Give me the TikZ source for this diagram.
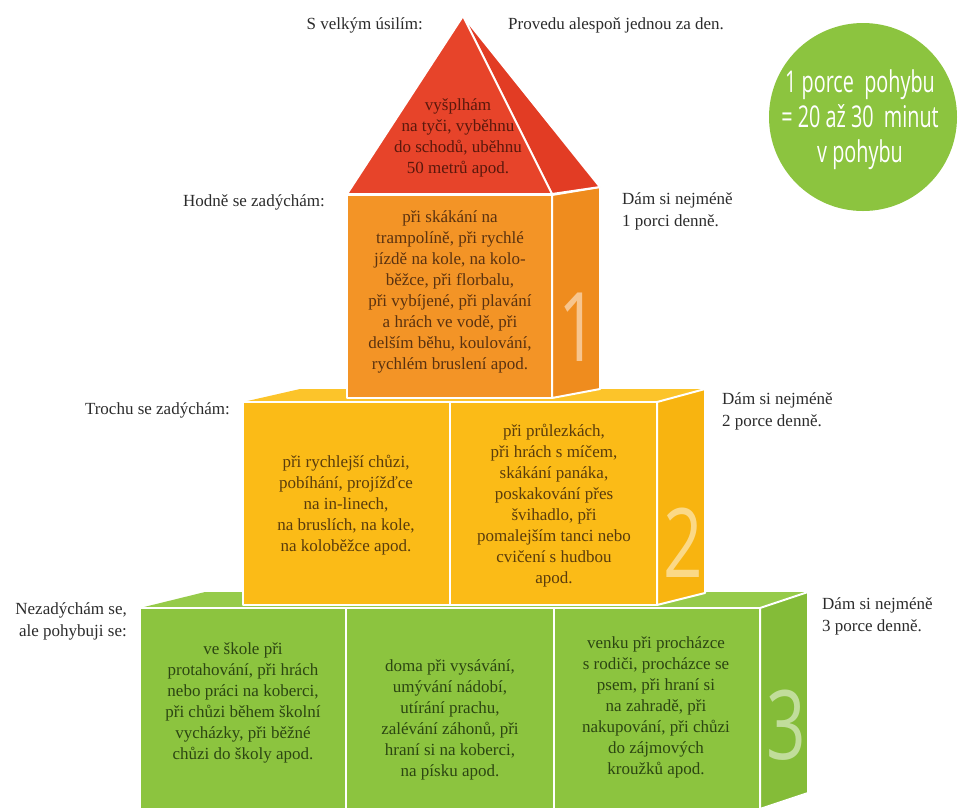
\documentclass[tikz,border=0pt]{standalone}
\usepackage{fontspec}
\setmainfont{Liberation Serif}
\newfontfamily\circfont{Open Sans}[FakeStretch=0.66]
\newfontfamily\digfont{Open Sans}[FakeStretch=0.72]
\definecolor{redF}{HTML}{E7442A}
\definecolor{redS}{HTML}{E23C24}
\definecolor{orF}{HTML}{F39426}
\definecolor{orS}{HTML}{EF8C1E}
\definecolor{yeF}{HTML}{FBBB17}
\definecolor{yeS}{HTML}{F8B410}
\definecolor{yeT}{HTML}{FCC42A}
\definecolor{grF}{HTML}{8CC43F}
\definecolor{grS}{HTML}{84BC38}
\definecolor{grT}{HTML}{96CB4A}
\definecolor{txRed}{HTML}{5A180C}
\definecolor{txOr}{HTML}{5A3210}
\definecolor{txYe}{HTML}{5A3C0C}
\definecolor{txGr}{HTML}{2C4612}
\definecolor{txLab}{HTML}{2B2B2B}
\tikzset{
  face/.style={draw=white, line width=2pt, line join=round},
  boxtext/.style={align=center, inner sep=0pt, font=\fontsize{17}{21}\selectfont},
  sidelab/.style={inner sep=0pt, text=txLab, font=\fontsize{17}{22}\selectfont},
  bigdigit/.style={inner sep=0pt, text=white, text opacity=0.5, font=\digfont\fontsize{96}{96}\selectfont},
}
\begin{document}
\begin{tikzpicture}[x=1pt,y=-1pt]
\useasboundingbox (0,0) rectangle (959,807);
% ---------- green level ----------
\fill[grT] (140,608) -- (205,592) -- (808,592) -- (760,608) -- cycle;
\filldraw[face, fill=grS] (760,608) -- (808,592) -- (808,793) -- (760,809) -- cycle;
\filldraw[face, fill=grF] (140,608) rectangle (346,812);
\filldraw[face, fill=grF] (346,608) rectangle (554,812);
\filldraw[face, fill=grF] (554,608) rectangle (760,812);
% ---------- yellow level ----------
\fill[yeT] (243,402) -- (300,389) -- (705,389) -- (657,402) -- cycle;
\filldraw[face, fill=yeS] (657,402) -- (705,389) -- (705,593) -- (657,605) -- cycle;
\filldraw[face, fill=yeF] (243,402) rectangle (450,605);
\filldraw[face, fill=yeF] (450,402) rectangle (657,605);
% ---------- orange level ----------
\filldraw[face, fill=orS] (552,195) -- (600,187) -- (600,389) -- (552,398) -- cycle;
\filldraw[face, fill=orF] (347,195) rectangle (552,398);
% ---------- roof ----------
\filldraw[face, fill=redS] (463,16) -- (600,187) -- (552,194) -- cycle;
\filldraw[face, fill=redF] (463,16) -- (552,194) -- (347,194) -- cycle;
% ---------- big digits ----------
\node[bigdigit] (d1) at (578,327) {1};
\node[bigdigit] (d2) at (683,543) {2};
\node[bigdigit] (d3) at (786,725) {3};
% ---------- box texts ----------
\node[boxtext, text=txRed] (troof) at (458,138) {vyšplhám\\na tyči, vyběhnu\\do schodů, uběhnu\\50 metrů apod.};
\node[boxtext, text=txOr] (tor) at (450,292) {při skákání na\\trampolíně, při rychlé\\jízdě na kole, na kolo-\\běžce, při florbalu,\\při vybíjené, při plavání\\a hrách ve vodě, při\\delším běhu, koulování,\\rychlém bruslení apod.};
\node[boxtext, text=txYe] (tyl) at (346,505) {při rychlejší chůzi,\\pobíhání, projížďce\\na in-linech,\\na bruslích, na kole,\\na koloběžce apod.};
\node[boxtext, text=txYe] (tyr) at (554,506) {při průlezkách,\\při hrách s míčem,\\skákání panáka,\\poskakování přes\\švihadlo, při\\pomalejším tanci nebo\\cvičení s hudbou\\apod.};
\node[boxtext, text=txGr] (tgl) at (243,703) {ve škole při\\protahování, při hrách\\nebo práci na koberci,\\při chůzi během školní\\vycházky, při běžné\\chůzi do školy apod.};
\node[boxtext, text=txGr] (tgm) at (450,720) {doma při vysávání,\\umývání nádobí,\\utírání prachu,\\zalévání záhonů, při\\hraní si na koberci,\\na písku apod.};
\node[boxtext, text=txGr] (tgr) at (656,707) {venku při procházce\\s rodiči, procházce se\\psem, při hraní si\\na zahradě, při\\nakupování, při chůzi\\do zájmových\\kroužků apod.};
% ---------- side labels ----------
\node[sidelab, anchor=east] (l1) at (423,25) {S velkým úsilím:};
\node[sidelab, anchor=west] (r1) at (508,25) {Provedu alespoň jednou za den.};
\node[sidelab, anchor=east] (l2) at (325,202) {Hodně se zadýchám:};
\node[sidelab, anchor=west, align=left] (r2) at (622,211) {Dám si nejméně\\1 porci denně.};
\node[sidelab, anchor=east] (l3) at (230,410) {Trochu se zadýchám:};
\node[sidelab, anchor=west, align=left] (r3) at (722,411) {Dám si nejméně\\2 porce denně.};
\node[sidelab, anchor=east, align=right] (l4) at (127,621) {Nezadýchám se,\\ale pohybuji se:};
\node[sidelab, anchor=west, align=left] (r4) at (822,616) {Dám si nejméně\\3 porce denně.};
% ---------- circle ----------
\fill[grF] (863,117) circle[radius=94];
\node[inner sep=0pt, align=center, text=white, font=\circfont\fontsize{30}{35}\selectfont] (circ) at (860,120) {1 porce\ \ pohybu\\= 20 až 30\ \ minut\\v pohybu};
\end{tikzpicture}
\end{document}
